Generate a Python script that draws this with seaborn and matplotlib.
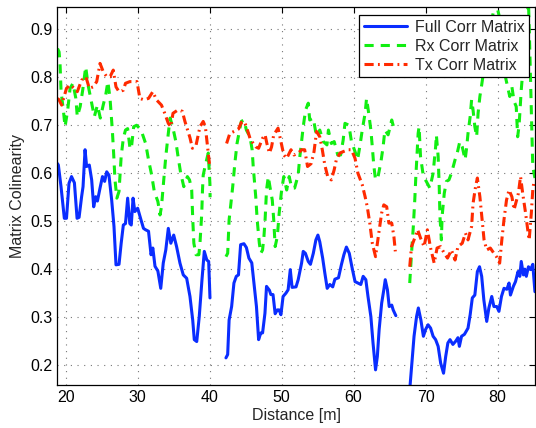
import numpy as np
import pandas as pd
import matplotlib
matplotlib.use("Agg")
import matplotlib.pyplot as plt
from matplotlib.lines import Line2D
import seaborn as sns

nan = np.nan

# Full Corr Matrix (nan marks a break in the measurement)
full_x = [18.85, 18.97, 19.34, 19.8, 20.1, 20.45, 20.8, 21.2, 21.57, 21.85, 22.2, 22.4, 22.68, 22.9,
          23.27, 23.6, 23.88, 24.16, 24.4, 24.76, 25.1, 25.4, 25.69, 26.0, 26.38, 26.7, 26.98, 27.4,
          27.7, 28.0, 28.3, 28.6, 28.9, 29.1, 29.35, 29.6, 29.99, 30.45, 30.8, 31.1, 31.5, 31.85,
          32.1, 32.4, 32.8, 33.2, 33.55, 33.9, 34.25, 34.6, 35.0, 35.4, 35.87, 36.33, 36.8, 37.26,
          37.64, 37.86, 38.2, 38.55, 38.93, 39.25, 39.6, 39.86, 40.04, nan,
          42.26, 42.5, 42.7, 43.05, 43.37, 43.7, 44.0, 44.3, 44.76, 45.1, 45.45, 45.85, 46.15, 46.5,
          46.8, 47.1, 47.35, 47.68, 47.9, 48.3, 48.5, 48.8, 49.1, 49.4, 49.65, 49.9, 50.2, 50.6,
          50.9, 51.2, 51.45, 52.0, 52.3, 52.77, 53.0, 53.3, 53.7, 54.0, 54.4, 54.76, 55.04, 55.3,
          55.7, 56.0, 56.33, 56.7, 57.1, 57.4, 57.9, 58.3, 58.65, 59.0, 59.4, 59.76, 60.2, 60.6,
          61.0, 61.33, 61.7, 62.0, 62.4, 62.7, 63.05, 63.3, 63.55, 63.9, 64.2, 64.4, 64.7, 64.95,
          65.3, 65.5, 65.87, nan,
          67.7, 68.1, 68.4, 68.75, 69.0, 69.35, 69.7, 70.0, 70.35, 70.7, 71.05, 71.4, 71.75, 72.1,
          72.5, 72.8, 73.1, 73.4, 73.8, 74.2, 74.5, 74.7, 75.0, 75.4, 75.9, 76.2, 76.5, 76.85, 77.2,
          77.5, 77.8, 78.1, 78.5, 78.8, 79.2, 79.5, 79.9, 80.2, 80.55, 80.9, 81.3, 81.6, 81.8, 82.2,
          82.5, 82.85, 83.1, 83.3, 83.6, 83.8, 84.0, 84.3, 84.6, 84.9, 85.2]
full_y = [0.62, 0.617, 0.572, 0.506, 0.506, 0.579, 0.593, 0.58, 0.506, 0.508, 0.551, 0.572, 0.649, 0.614,
          0.617, 0.586, 0.53, 0.551, 0.542, 0.569, 0.593, 0.583, 0.603, 0.596, 0.544, 0.489, 0.409, 0.41,
          0.454, 0.492, 0.495, 0.548, 0.495, 0.492, 0.548, 0.52, 0.527, 0.503, 0.485, 0.482, 0.479, 0.43,
          0.444, 0.406, 0.396, 0.36, 0.413, 0.44, 0.485, 0.454, 0.471, 0.447, 0.4125, 0.388, 0.381, 0.343,
          0.294, 0.253, 0.249, 0.301, 0.378, 0.437, 0.419, 0.416, 0.34, nan,
          0.215, 0.222, 0.294, 0.322, 0.371, 0.385, 0.388, 0.451, 0.453, 0.445, 0.423, 0.413, 0.371, 0.322,
          0.253, 0.267, 0.267, 0.308, 0.364, 0.356, 0.347, 0.347, 0.307, 0.315, 0.315, 0.305, 0.343, 0.35,
          0.357, 0.399, 0.362, 0.363, 0.378, 0.4125, 0.437, 0.433, 0.416, 0.41, 0.433, 0.461, 0.471, 0.457,
          0.423, 0.392, 0.36, 0.368, 0.363, 0.379, 0.382, 0.409, 0.43, 0.446, 0.433, 0.405, 0.374, 0.371,
          0.368, 0.385, 0.378, 0.343, 0.301, 0.246, 0.19, 0.218, 0.274, 0.329, 0.357, 0.378, 0.357, 0.322,
          0.325, 0.315, 0.303, nan,
          0.13, 0.204, 0.26, 0.301, 0.319, 0.294, 0.26, 0.274, 0.284, 0.277, 0.26, 0.253, 0.239, 0.204,
          0.183, 0.218, 0.246, 0.253, 0.243, 0.25, 0.257, 0.239, 0.26, 0.264, 0.277, 0.305, 0.34, 0.346, 0.395,
          0.405, 0.385, 0.336, 0.291, 0.319, 0.343, 0.322, 0.322, 0.312, 0.343, 0.36, 0.358, 0.371, 0.346, 0.364,
          0.374, 0.395, 0.385, 0.416, 0.388, 0.4, 0.385, 0.405, 0.399, 0.41, 0.353]

# Rx Corr Matrix
rx_x = [18.85, 19.07, 19.2, 19.35, 19.66, 19.9, 20.27, 20.6, 21.0, 21.4, 21.6, 22.0, 22.36, 22.77,
        23.1, 23.6, 23.97, 24.4, 24.8, 25.2, 25.55, 25.85, 26.15, 26.47, 26.65, 26.84, 27.1, 27.4,
        27.7, 28.0, 28.3, 28.6, 28.9, 29.1, 29.44, 29.85, 30.3, 30.6, 31.1, 31.5, 31.94, 32.3, 32.8,
        33.1, 33.3, 33.6, 33.9, 34.25, 34.5, 34.9, 35.3, 35.6, 35.97, 36.4, 36.9, 37.2, 37.5, 37.65,
        37.8, 38.1, 38.5, 38.65, 38.9, 39.0, 39.1, 39.4, 39.8, 40.03, 40.06, nan,
        42.26, 42.5, 42.7, 42.95, 43.2, 43.5, 43.8, 44.2, 44.4, 44.76, 45.1, 45.6, 45.9, 46.05, 46.4,
        46.6, 46.9, 47.1, 47.35, 47.54, 47.7, 47.9, 48.15, 48.37, 48.7, 48.9, 49.1, 49.4, 49.66, 50.0,
        50.3, 50.7, 51.05, 51.4, 51.8, 52.3, 52.5, 52.77, 53.0, 53.33, 53.7, 53.9, 54.4, 54.85, 55.3,
        55.8, 56.3, 56.5, 56.9, 57.3, 57.8, 58.2, 58.55, 58.8, 59.35, 59.7, 60.2, 60.55, 60.9, 61.2,
        61.6, 61.8, 62.1, 62.4, 62.6, 62.8, 63.05, 63.4, 63.8, 64.1, 64.35, 64.8, 65.3, 65.6, nan,
        67.8, 68.05, 68.3, 68.5, 68.65, 68.8, 68.97, 69.1, 69.3, 69.7, 70.1, 70.6, 71.05, 71.4, 71.5,
        71.75, 71.9, 72.0, 72.2, 72.3, 72.6, 72.9, 73.25, 73.6, 74.1, 74.4, 74.76, 75.1, 75.5, 75.7,
        75.9, 76.2, 76.4, 76.6, 76.85, 77.1, 77.3, 77.55, 77.8, 78.0, 78.25, 78.6, 79.0, 79.4, 79.7,
        80.2, 80.6, 81.0, 81.2, 81.7, 82.0, 82.3, 82.6, 82.8, 83.0, 83.3, 83.5, 83.8, 84.1, 84.3,
        84.5, 84.7, 84.9, 85.2]
rx_y = [0.86, 0.853, 0.829, 0.77, 0.732, 0.697, 0.732, 0.777, 0.7875, 0.756, 0.718, 0.739, 0.774, 0.822,
        0.784, 0.746, 0.718, 0.742, 0.715, 0.742, 0.763, 0.791, 0.756, 0.69, 0.642, 0.586, 0.548, 0.562,
        0.635, 0.673, 0.69, 0.693, 0.655, 0.65, 0.697, 0.70, 0.693, 0.684, 0.662, 0.628, 0.596, 0.562, 0.541,
        0.513, 0.53, 0.583, 0.635, 0.683, 0.715, 0.694, 0.666, 0.635, 0.6, 0.572, 0.593, 0.586, 0.565, 0.503,
        0.454, 0.43, 0.43, 0.454, 0.517, 0.565, 0.596, 0.617, 0.642, 0.579, 0.55, nan,
        0.426, 0.433, 0.503, 0.537, 0.572, 0.621, 0.662, 0.694, 0.708, 0.711, 0.69, 0.676, 0.649, 0.614, 0.551,
        0.503, 0.454, 0.433, 0.44, 0.468, 0.503, 0.565, 0.593, 0.572, 0.544, 0.503, 0.447, 0.468, 0.517, 0.565,
        0.593, 0.565, 0.593, 0.569, 0.569, 0.596, 0.631, 0.666, 0.697, 0.732, 0.746, 0.711, 0.715, 0.676, 0.69,
        0.666, 0.659, 0.69, 0.662, 0.666, 0.638, 0.638, 0.669, 0.704, 0.70, 0.666, 0.645, 0.628, 0.659, 0.69,
        0.725, 0.756, 0.725, 0.69, 0.655, 0.617, 0.586, 0.593, 0.624, 0.655, 0.69, 0.68, 0.711, 0.694, nan,
        0.371, 0.433, 0.489, 0.544, 0.593, 0.635, 0.683, 0.697, 0.635, 0.593, 0.583, 0.569, 0.6, 0.655, 0.68,
        0.635, 0.572, 0.51, 0.461, 0.51, 0.558, 0.583, 0.586, 0.6, 0.628, 0.642, 0.666, 0.655, 0.628, 0.652,
        0.683, 0.718, 0.753, 0.732, 0.697, 0.676, 0.725, 0.76, 0.784, 0.805, 0.829, 0.86, 0.9, 0.935, 0.96,
        0.93, 0.85, 0.81, 0.794, 0.76, 0.78, 0.75, 0.739, 0.676, 0.70, 0.774, 0.81, 0.87, 0.92, 0.96,
        0.85, 0.73, 0.614, 0.59]

# Tx Corr Matrix
tx_x = [18.85, 19.07, 19.43, 20.1, 20.6, 21.2, 21.6, 22.2, 22.8, 23.27, 23.8, 24.3, 24.76, 25.2,
        25.7, 26.15, 26.6, 26.98, 27.4, 28.0, 28.3, 28.9, 29.5, 29.9, 30.3, 30.85, 31.5, 32.1, 32.6,
        33.3, 33.75, 34.25, 34.6, 34.9, 35.6, 36.2, 36.56, 37.26, 37.6, 38.1, 38.65, 39.1, 39.4, 39.8,
        40.04, nan,
        42.35, 42.8, 43.5, 44.0, 44.4, 44.8, 45.1, 45.6, 46.05, 46.4, 46.8, 47.35, 47.7, 47.95, 48.3,
        48.6, 48.9, 49.5, 49.8, 50.3, 50.7, 51.3, 51.7, 52.3, 52.8, 53.2, 53.6, 54.1, 54.5, 54.85, 55.3,
        55.65, 56.0, 56.4, 56.9, 57.3, 57.6, 58.1, 58.55, 59.25, 59.7, 60.2, 60.6, 61.2, 61.6, 61.9,
        62.25, 62.6, 63.05, 63.5, 63.9, 64.2, 64.6, 64.9, 65.3, 65.6, 65.8, nan,
        67.8, 68.05, 68.4, 68.9, 69.3, 69.8, 70.25, 70.7, 71.2, 71.6, 72.1, 72.6, 73.05, 73.6, 74.1,
        74.5, 75.1, 75.55, 75.9, 76.4, 76.6, 76.95, 77.2, 77.55, 77.86, 78.13, 78.5, 79.0, 79.5, 79.85,
        80.3, 80.6, 80.9, 81.25, 81.6, 82.0, 82.3, 82.9, 83.2, 83.5, 83.9, 84.2, 84.4, 84.7, 84.9, 85.1]
tx_y = [0.756, 0.753, 0.742, 0.777, 0.784, 0.777, 0.77, 0.794, 0.801, 0.777, 0.78, 0.791, 0.829, 0.812,
        0.801, 0.801, 0.815, 0.78, 0.77, 0.773, 0.7875, 0.791, 0.791, 0.791, 0.756, 0.753, 0.756, 0.77, 0.753,
        0.742, 0.725, 0.704, 0.697, 0.725, 0.732, 0.729, 0.708, 0.674, 0.652, 0.658, 0.697, 0.708, 0.697, 0.642,
        0.61, nan,
        0.662, 0.683, 0.688, 0.692, 0.706, 0.708, 0.697, 0.673, 0.662, 0.655, 0.652, 0.673, 0.68, 0.662, 0.642,
        0.655, 0.68, 0.694, 0.673, 0.638, 0.631, 0.649, 0.638, 0.642, 0.649, 0.649, 0.614, 0.62, 0.645, 0.687, 0.676,
        0.649, 0.617, 0.593, 0.586, 0.607, 0.628, 0.642, 0.645, 0.649, 0.649, 0.631, 0.6, 0.576, 0.551, 0.53,
        0.496, 0.454, 0.426, 0.475, 0.517, 0.534, 0.53, 0.496, 0.496, 0.468, 0.437, nan,
        0.405, 0.447, 0.461, 0.482, 0.465, 0.447, 0.482, 0.444, 0.4125, 0.444, 0.447, 0.433, 0.423, 0.44, 0.419,
        0.447, 0.454, 0.475, 0.461, 0.489, 0.537, 0.572, 0.59, 0.551, 0.503, 0.461, 0.44, 0.444, 0.433, 0.426,
        0.4125, 0.461, 0.503, 0.544, 0.565, 0.551, 0.524, 0.558, 0.593, 0.558, 0.517, 0.482, 0.461, 0.517, 0.565, 0.586]

labels = ["Full Corr Matrix", "Rx Corr Matrix", "Tx Corr Matrix"]
colors = ["#0a2dff", "#11ee11", "#ff2a00"]
styles = ["-", (0, (3, 2.3)), (0, (3, 1.4, 0.6, 1.4))]
x_ticks = [20, 30, 40, 50, 60, 70, 80]
y_ticks = [0.2, 0.3, 0.4, 0.5, 0.6, 0.7, 0.8, 0.9]


def to_frame(xs, ys):
    df = pd.DataFrame({"x": xs, "y": ys})
    # each nan starts a new segment so the line breaks there
    df["seg"] = df["y"].isna().cumsum()
    return df.dropna()


def main():
    sns.set_style("white")
    plt.rcParams["font.family"] = ["Liberation Sans", "DejaVu Sans"]
    plt.rcParams["font.size"] = 11.5

    fig, ax = plt.subplots(figsize=(5.36, 4.28), dpi=100)
    fig.subplots_adjust(left=0.107, right=0.998, top=0.983, bottom=0.100)

    series = [(full_x, full_y), (rx_x, rx_y), (tx_x, tx_y)]
    for (xs, ys), col, ls in zip(series, colors, styles):
        df = to_frame(xs, ys)
        sns.lineplot(data=df, x="x", y="y", units="seg", estimator=None, sort=False,
                     color=col, linestyle=ls, linewidth=2.2, legend=False, ax=ax)

    ax.set_xlim(18.83, 85.2)
    ax.set_ylim(0.158, 0.946)
    ax.set_xticks(x_ticks)
    ax.set_yticks(y_ticks)
    ax.set_yticklabels([f"{v:.1f}" for v in y_ticks])
    ax.set_xlabel("Distance [m]", fontsize=11.5, labelpad=2)
    ax.set_ylabel("Matrix Colinearity", fontsize=11.5, labelpad=4)

    ax.grid(True, linestyle=(0, (1, 5)), color="#777777", linewidth=0.8)
    ax.set_axisbelow(True)
    ax.tick_params(direction="in", top=True, right=True, length=4, width=0.8,
                   labelsize=11.5, colors="black")
    for sp in ax.spines.values():
        sp.set_visible(True)
        sp.set_color("black")
        sp.set_linewidth(0.9)

    handles = [Line2D([], [], color=c, linestyle=ls, linewidth=2.2) for c, ls in zip(colors, styles)]
    leg = ax.legend(handles, labels, loc="upper right", bbox_to_anchor=(0.988, 0.980),
                    borderaxespad=0, frameon=True, fancybox=False, framealpha=1,
                    edgecolor="black", handlelength=2.7, labelspacing=0.25,
                    borderpad=0.3, handletextpad=0.5, fontsize=11.5)
    leg.get_frame().set_linewidth(0.9)

    fig.savefig("out.png", dpi=100)


if __name__ == "__main__":
    main()
